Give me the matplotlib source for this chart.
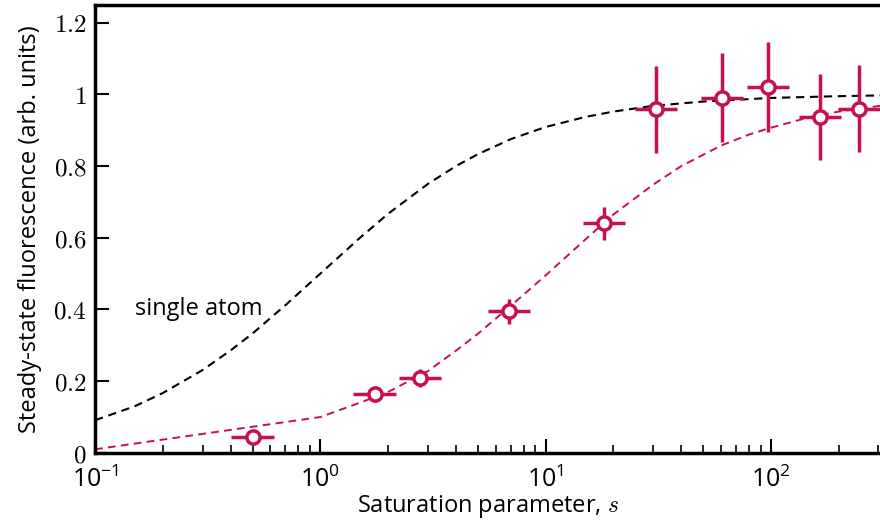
import numpy as np
import matplotlib
matplotlib.use("Agg")
import matplotlib.pyplot as plt
from matplotlib.ticker import LogLocator, LogFormatterMathtext, FuncFormatter, NullFormatter

plt.rcParams["mathtext.fontset"] = "cm"
plt.rcParams["font.family"] = ["Open Sans", "DejaVu Sans"]

# measured points
sat_param = [0.50, 1.74, 2.78, 6.9, 18.1, 30.8, 60.5, 97.0, 165.0, 245.0]
fluor = [0.045, 0.163, 0.208, 0.395, 0.640, 0.958, 0.990, 1.020, 0.937, 0.960]
fluor_err = [0.005, 0.020, 0.025, 0.035, 0.047, 0.122, 0.124, 0.126, 0.120, 0.122]
xerr_factor = 1.24

atom_s = [0.1, 0.15, 0.2, 0.3, 0.4, 0.5, 0.7, 1.0, 1.5, 2.0, 3.0, 4.0, 5.0, 7.0,
          10.0, 15.0, 20.0, 30.0, 50.0, 100.0, 200.0, 305.0]
atom_y = [0.091, 0.130, 0.167, 0.231, 0.286, 0.333, 0.412, 0.500, 0.600, 0.667,
          0.750, 0.800, 0.833, 0.875, 0.909, 0.937, 0.952, 0.968, 0.980, 0.990,
          0.995, 0.997]

model_s = [0.1, 1.0, 1.2, 1.5, 2.0, 3.0, 4.0, 5.0, 7.0, 10.0, 15.0, 20.0, 30.0,
           40.0, 60.0, 80.0, 100.0, 150.0, 200.0, 305.0]
model_y = [0.010, 0.100, 0.118, 0.140, 0.170, 0.228, 0.285, 0.332, 0.410, 0.495,
           0.595, 0.665, 0.748, 0.800, 0.857, 0.888, 0.907, 0.937, 0.952, 0.968]

red = "#C8104A"

fig = plt.figure(figsize=(8.8, 5.26), dpi=100)
ax = fig.add_axes([0.108, 0.139, 0.892, 0.852])

ax.plot(atom_s, atom_y, color="black", ls=(0, (4, 2.7)), lw=1.5)
ax.plot(model_s, model_y, color=red, ls=(0, (4, 2.7)), lw=1.4)

s = np.array(sat_param)
xerr = [s - s / xerr_factor, s * xerr_factor - s]
ax.errorbar(s, fluor, xerr=xerr, yerr=fluor_err, fmt="o", color=red,
            ms=9.5, mfc="white", mec=red, mew=2.5, elinewidth=2.5, capsize=0,
            clip_on=False, zorder=3)

ax.text(0.15, 0.40, "single atom", fontsize=17, va="center", ha="left")

ax.set_xscale("log")
ax.set_xlim(0.1, 305)
ax.set_ylim(0, 1.25)

ax.xaxis.set_major_locator(LogLocator(base=10))
ax.xaxis.set_major_formatter(LogFormatterMathtext())
ax.xaxis.set_minor_locator(LogLocator(base=10, subs=np.arange(2, 10)))
ax.xaxis.set_minor_formatter(NullFormatter())
ax.set_yticks([0, 0.2, 0.4, 0.6, 0.8, 1.0, 1.2])
ax.yaxis.set_major_formatter(FuncFormatter(lambda v, p: "$%g$" % v))

ax.tick_params(which="major", direction="in", length=10, width=1.5,
               labelsize=18, top=False, right=False)
ax.tick_params(axis="x", which="major", pad=10)
ax.tick_params(axis="y", which="major", pad=6)
ax.tick_params(which="minor", direction="in", length=6, width=1.2,
               top=False, right=False)

for side in ["left", "bottom", "top"]:
    ax.spines[side].set_linewidth(2.5)
ax.spines["right"].set_visible(False)

ax.set_xlabel("Saturation parameter, $s$", fontsize=17, labelpad=0)
ax.set_ylabel("Steady-state fluorescence (arb. units)", fontsize=17, labelpad=8)

fig.savefig("out.png", dpi=100)
